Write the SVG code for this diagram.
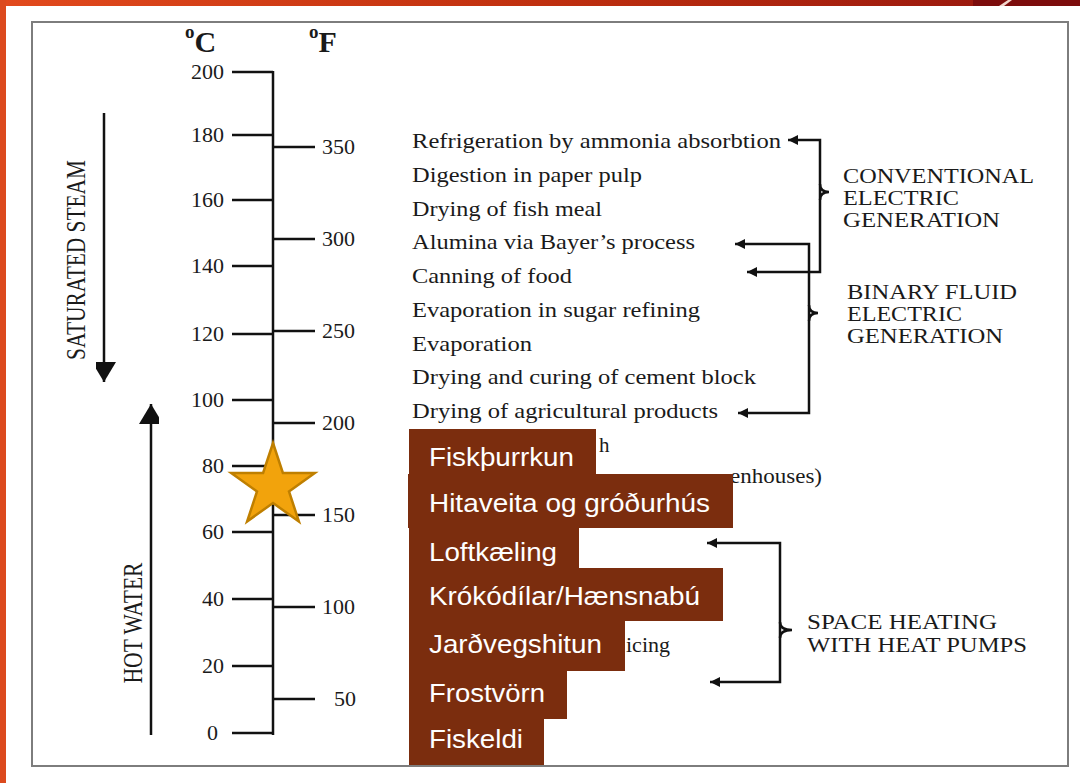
<svg xmlns="http://www.w3.org/2000/svg" width="1080" height="783" viewBox="0 0 1080 783">
<style>
.t{font-family:"Liberation Serif","Times New Roman",serif;font-size:21px;fill:#1a1a1a}
.lb{font-family:"Liberation Serif","Times New Roman",serif;font-size:20px;fill:#1a1a1a}
.n{font-family:"Liberation Serif","Times New Roman",serif;font-size:22px;fill:#1a1a1a}
.h{font-family:"Liberation Serif","Times New Roman",serif;font-weight:bold;fill:#1a1a1a}
.ln{stroke:#111;stroke-width:2.5;fill:none}
.box{fill:#7B2D0E}
.bt{font-family:"Liberation Sans",Arial,sans-serif;font-size:26.5px;fill:#ffffff}
</style>
<defs>
<linearGradient id="topbar" x1="0" y1="0" x2="1" y2="0">
<stop offset="0" stop-color="#E24A1D"/>
<stop offset="0.55" stop-color="#C0300F"/>
<stop offset="1" stop-color="#9C1A0E"/>
</linearGradient>
<marker id="ah" markerUnits="userSpaceOnUse" markerWidth="12" markerHeight="10" refX="10" refY="5" orient="auto-start-reverse">
<path d="M0,0 L10,5 L0,10 Z" fill="#111"/>
</marker>
<marker id="big" markerUnits="userSpaceOnUse" markerWidth="26" markerHeight="20" refX="20" refY="12" orient="auto">
<path d="M0,0 L20,12 L0,24 Z" fill="#111"/>
</marker>
</defs>
<rect x="0" y="0" width="1080" height="783" fill="#ffffff"/>
<rect x="0" y="0" width="973" height="6" fill="url(#topbar)"/>
<rect x="973" y="0" width="107" height="6" fill="#7C0C0C"/>
<polygon points="999,6 1004,6 1012,0 1008,0" fill="#F2D6CC"/>
<rect x="0" y="0" width="6" height="783" fill="#DC4A1E"/>
<rect x="32" y="22" width="1036" height="744" fill="#ffffff" stroke="#7d7d7d" stroke-width="2"/>

<g id="headers">
<text class="h" x="185" y="52"><tspan font-size="19" dy="-14">o</tspan><tspan font-size="30" dy="14">C</tspan></text>
<text class="h" x="309" y="52"><tspan font-size="19" dy="-14">o</tspan><tspan font-size="30" dy="14">F</tspan></text>
</g>

<g id="scale">
<path class="ln" d="M273,71 V735"/>
<path class="ln" d="M232,72 H273 M232,135 H273 M232,200 H273 M232,266 H273 M232,334 H273 M232,400 H273 M232,466 H273 M232,532 H273 M232,599 H273 M232,666 H273 M232,733 H273"/>
<path class="ln" d="M273,147 H315 M273,239 H315 M273,331 H315 M273,423 H315 M273,515 H315 M273,607 H315 M273,699 H315"/>
<g class="n" text-anchor="end">
<text x="224" y="79">200</text>
<text x="224" y="142">180</text>
<text x="224" y="207">160</text>
<text x="224" y="273">140</text>
<text x="224" y="341">120</text>
<text x="224" y="407">100</text>
<text x="224" y="473">80</text>
<text x="224" y="539">60</text>
<text x="224" y="606">40</text>
<text x="224" y="673">20</text>
<text x="218" y="740">0</text>
</g>
<g class="n">
<text x="322" y="154">350</text>
<text x="322" y="246">300</text>
<text x="322" y="338">250</text>
<text x="322" y="430">200</text>
<text x="322" y="522">150</text>
<text x="322" y="614">100</text>
<text x="334" y="706">50</text>
</g>
</g>

<g id="steam">
<path class="ln" d="M104,113 V382" marker-end="url(#big)"/>
<text class="t" transform="translate(85,260) scale(1.28,1) rotate(-90)" text-anchor="middle" textLength="200" lengthAdjust="spacingAndGlyphs">SATURATED STEAM</text>
</g>
<g id="hotwater">
<path class="ln" d="M151,735 V404" marker-end="url(#big)"/>
<text class="t" transform="translate(142,623) scale(1.28,1) rotate(-90)" text-anchor="middle" textLength="121" lengthAdjust="spacingAndGlyphs">HOT WATER</text>
</g>

<g id="uses" class="t">
<text id="u1" x="412" y="148" textLength="369" lengthAdjust="spacingAndGlyphs">Refrigeration by ammonia absorbtion</text>
<text id="u2" x="412" y="182" textLength="230" lengthAdjust="spacingAndGlyphs">Digestion in paper pulp</text>
<text id="u3" x="412" y="216" textLength="190" lengthAdjust="spacingAndGlyphs">Drying of fish meal</text>
<text id="u4" x="412" y="249" textLength="283" lengthAdjust="spacingAndGlyphs">Alumina via Bayer’s process</text>
<text id="u5" x="412" y="283" textLength="160" lengthAdjust="spacingAndGlyphs">Canning of food</text>
<text id="u6" x="412" y="317" textLength="288" lengthAdjust="spacingAndGlyphs">Evaporation in sugar refining</text>
<text id="u7" x="412" y="351" textLength="120" lengthAdjust="spacingAndGlyphs">Evaporation</text>
<text id="u8" x="412" y="384" textLength="344" lengthAdjust="spacingAndGlyphs">Drying and curing of cement block</text>
<text id="u9" x="412" y="418" textLength="306" lengthAdjust="spacingAndGlyphs">Drying of agricultural products</text>
<text id="u10" x="599" y="452">h</text>
<text id="u11" x="730" y="483" textLength="92" lengthAdjust="spacingAndGlyphs">enhouses)</text>
<text id="u12" x="626" y="652" textLength="44" lengthAdjust="spacingAndGlyphs">icing</text>
</g>

<g id="connectors">
<path class="ln" d="M788,140 H820 V272 H747" marker-start="url(#ah)" marker-end="url(#ah)"/>
<path class="ln" d="M820,184 Q820,192 829,192 Q820,192 820,200"/>
<path class="ln" d="M735,244 H809 V413 H738" marker-start="url(#ah)" marker-end="url(#ah)"/>
<path class="ln" d="M809,305 Q809,313 818,313 Q809,313 809,321"/>
<path class="ln" d="M707,543 H780 V682 H710" marker-start="url(#ah)" marker-end="url(#ah)"/>
<path class="ln" d="M780,622 Q780,630 792,630 Q780,630 780,638"/>
</g>

<g id="label-conventional" class="lb">
<text x="843" y="183" textLength="191" lengthAdjust="spacingAndGlyphs">CONVENTIONAL</text>
<text x="843" y="205" textLength="116" lengthAdjust="spacingAndGlyphs">ELECTRIC</text>
<text x="843" y="227" textLength="157" lengthAdjust="spacingAndGlyphs">GENERATION</text>
</g>
<g id="label-binary" class="lb">
<text x="847" y="299" textLength="170" lengthAdjust="spacingAndGlyphs">BINARY FLUID</text>
<text x="847" y="321" textLength="115" lengthAdjust="spacingAndGlyphs">ELECTRIC</text>
<text x="847" y="343" textLength="156" lengthAdjust="spacingAndGlyphs">GENERATION</text>
</g>
<g id="label-spaceheating" class="lb">
<text x="807" y="629" textLength="190" lengthAdjust="spacingAndGlyphs">SPACE HEATING</text>
<text x="807" y="652" textLength="220" lengthAdjust="spacingAndGlyphs">WITH HEAT PUMPS</text>
</g>

<g id="box-fiskthurrkun"><rect class="box" x="409" y="429" width="187" height="47"/><text class="bt" x="429" y="466" textLength="145" lengthAdjust="spacingAndGlyphs">Fiskþurrkun</text></g>
<g id="box-hitaveita"><rect class="box" x="408" y="474" width="325" height="54"/><text class="bt" x="429" y="512" textLength="281" lengthAdjust="spacingAndGlyphs">Hitaveita og gróðurhús</text></g>
<g id="box-loftkaeling"><rect class="box" x="409" y="527" width="170" height="42"/><text class="bt" x="429" y="561" textLength="128" lengthAdjust="spacingAndGlyphs">Loftkæling</text></g>
<g id="box-krokodilar"><rect class="box" x="409" y="568" width="314" height="53"/><text class="bt" x="429" y="605" textLength="271" lengthAdjust="spacingAndGlyphs">Krókódílar/Hænsnabú</text></g>
<g id="box-jardvegshitun"><rect class="box" x="409" y="620" width="216" height="51"/><text class="bt" x="429" y="653" textLength="173" lengthAdjust="spacingAndGlyphs">Jarðvegshitun</text></g>
<g id="box-frostvorn"><rect class="box" x="409" y="670" width="158" height="49"/><text class="bt" x="429" y="702" textLength="116" lengthAdjust="spacingAndGlyphs">Frostvörn</text></g>
<g id="box-fiskeldi"><rect class="box" x="409" y="718" width="135" height="47"/><text class="bt" x="429" y="748" textLength="94" lengthAdjust="spacingAndGlyphs">Fiskeldi</text></g>

<g id="star">
<polygon points="273,443 282.9,473 314.8,473 289,491.5 298.9,521.5 273,503 247.1,521.5 257,491.5 231.2,473 263.1,473" fill="#F2A30C" stroke="#BF7F00" stroke-width="2.5" stroke-linejoin="miter"/>
</g>
</svg>
